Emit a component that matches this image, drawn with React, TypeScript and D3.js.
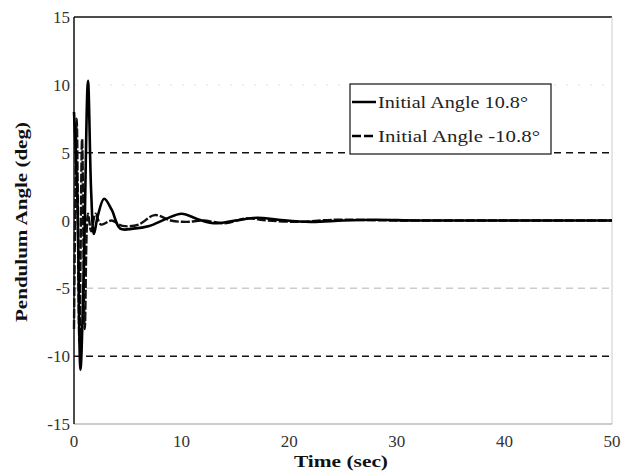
import React from "react";
import * as d3 from "d3";

const tA = [0, 0.3, 0.6, 0.9, 1.3, 1.6, 1.85, 2.2, 2.8, 3.5, 4.3, 5.5, 7, 8.5, 10, 11.5, 13, 15, 17, 19, 22, 25, 28, 32, 40, 50];
const vA = [8, 2, -11, -4, 10.3, 2, -1, 0.3, 1.6, 0.8, -0.6, -0.6, -0.4, 0.1, 0.5, 0.1, -0.2, 0, 0.2, 0.05, -0.1, 0, 0.05, 0, 0, 0];
const tB = [0, 0.25, 0.5, 0.75, 1.0, 1.3, 1.6, 2.0, 2.5, 3.5, 4.5, 6, 7.5, 9, 10.5, 12, 14, 16, 18, 21, 24, 30, 40, 50];
const vB = [-8, 7.5, -9, 6, -8, 0.5, -0.8, 0.5, -0.3, 0, -0.4, -0.3, 0.4, 0, -0.1, 0, -0.2, 0.15, 0, -0.1, 0.05, 0, 0, 0];
const xTicks = [0, 10, 20, 30, 40, 50];
const yTicks = [-15, -10, -5, 0, 5, 10, 15];
const legendLabels = ["Initial Angle 10.8°", "Initial Angle -10.8°"];

export default function App() {
  const W = 622, H = 473;
  const L = 74, R = 612, T = 17, B = 424;
  const x = d3.scaleLinear().domain([0, 50]).range([L, R]);
  const y = d3.scaleLinear().domain([-15, 15]).range([B, T]);
  const line = d3.line<[number, number]>().x(d => x(d[0])).y(d => y(d[1])).curve(d3.curveCatmullRom.alpha(0.5));
  const dA = line(tA.map((t, i) => [t, vA[i]]))!;
  const dB = line(tB.map((t, i) => [t, vB[i]]))!;
  const ff = { fontFamily: "'Liberation Serif', 'Times New Roman', 'DejaVu Serif', serif" };
  return (
    <svg width={W} height={H} style={{ position: "absolute", left: 0, top: 0, background: "#fff" }}>
      <rect x={0} y={0} width={W} height={H} fill="#fff" />
      {/* reference lines */}
      <line x1={L} x2={R} y1={y(10)} y2={y(10)} stroke="#e0e0e0" strokeWidth={1} strokeDasharray="2,10" />
      <line x1={L} x2={R} y1={y(5)} y2={y(5)} stroke="#111" strokeWidth={1.5} strokeDasharray="7,5" />
      <line x1={L} x2={R} y1={y(-5)} y2={y(-5)} stroke="#ccc" strokeWidth={1.5} strokeDasharray="7,5" />
      <line x1={L} x2={R} y1={y(-10)} y2={y(-10)} stroke="#111" strokeWidth={1.5} strokeDasharray="7,5" />
      {/* frame */}
      <line x1={L} x2={R} y1={T} y2={T} stroke="#111" strokeWidth={1.5} />
      <line x1={R} x2={R} y1={T} y2={B} stroke="#ccc" strokeWidth={1} />
      <line x1={L} x2={R} y1={B} y2={B} stroke="#999" strokeWidth={1.2} />
      <line x1={L} x2={L} y1={T} y2={B} stroke="#111" strokeWidth={1.5} />
      {/* data */}
      <path d={dB} fill="none" stroke="#111" strokeWidth={2.4} strokeDasharray="9,2" />
      <path d={dA} fill="none" stroke="#000" strokeWidth={2.6} />
      {/* ticks */}
      {yTicks.map(v => (
        <text key={v} x={70} y={y(v) + 6} textAnchor="end" fontSize={17} fill="#333" style={ff}>{v}</text>
      ))}
      {xTicks.map(v => (
        <text key={v} x={x(v)} y={447} textAnchor="middle" fontSize={17} fill="#333" style={ff}>{v}</text>
      ))}
      {/* axis labels */}
      <text x={341} y={467} textAnchor="middle" fontSize={17} fontWeight="bold" fill="#111" style={ff} textLength={94} lengthAdjust="spacingAndGlyphs">Time (sec)</text>
      <text transform="translate(27,222) rotate(-90)" textAnchor="middle" fontSize={17} fontWeight="bold" fill="#111" style={ff} textLength={200} lengthAdjust="spacingAndGlyphs">Pendulum Angle (deg)</text>
      {/* legend */}
      <rect x={350} y={84} width={201} height={70} fill="#fff" stroke="#111" strokeWidth={1.2} />
      <line x1={352} x2={376} y1={102} y2={102} stroke="#000" strokeWidth={2.5} />
      <line x1={352} x2={376} y1={136} y2={136} stroke="#000" strokeWidth={2.5} strokeDasharray="9,3" />
      <text x={378} y={108} fontSize={17} fill="#222" style={ff} textLength={150} lengthAdjust="spacingAndGlyphs">{legendLabels[0]}</text>
      <text x={378} y={142} fontSize={17} fill="#222" style={ff} textLength={162} lengthAdjust="spacingAndGlyphs">{legendLabels[1]}</text>
    </svg>
  );
}
